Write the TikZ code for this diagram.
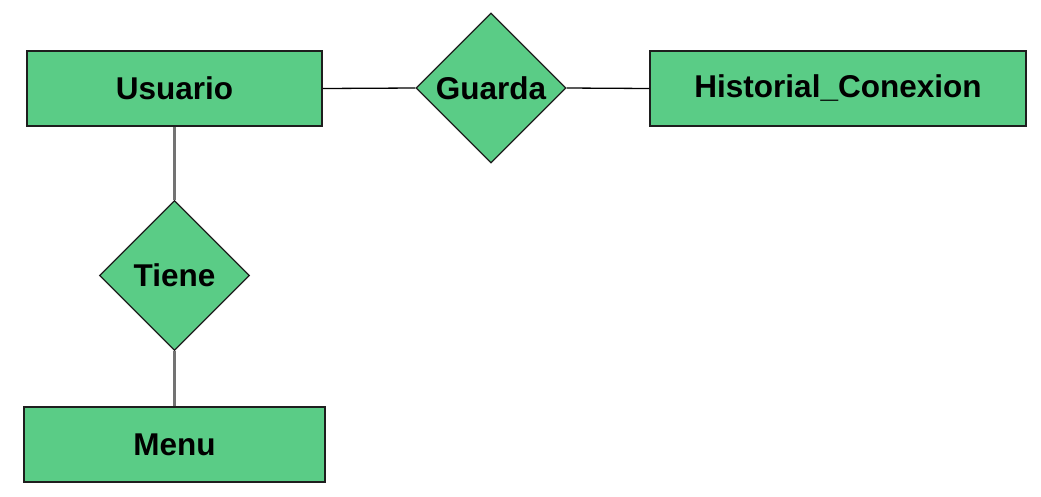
\documentclass[tikz,border=0pt]{standalone}
\usepackage{fontspec}
\setmainfont{Liberation Sans}
\usetikzlibrary{shapes.geometric}
\definecolor{erfill}{RGB}{90,204,134}
\definecolor{erline}{RGB}{30,30,30}
\begin{document}
\begin{tikzpicture}[x=1pt,y=-1pt,
  entity/.style={draw=erline,line width=1.5pt,fill=erfill,minimum width=#1,minimum height=75pt,inner sep=0pt,font=\fontsize{31.5}{31.5}\selectfont\bfseries},
  relation/.style={diamond,draw=erline,line width=1.2pt,fill=erfill,minimum width=150pt,minimum height=150pt,inner sep=0pt,aspect=1,font=\fontsize{31.5}{31.5}\selectfont\bfseries},
  link/.style={draw=black,line width=1.3pt},
  vlink/.style={draw=black!55,line width=2.5pt}]
\useasboundingbox[fill=white] (0,0) rectangle (1041,496);
\node[entity=295pt] (usuario) at (174.5,88.5) {Usuario};
\node[relation] (guarda) at (491,88) {Guarda};
\node[entity=376pt] (historial) at (838,88.5) {Historial\_Conexion};
\node[relation] (tiene) at (174.5,275.5) {Tiene};
\node[entity=301pt] (menu) at (174.5,444.5) {Menu};
\draw[link] (usuario.east) -- (guarda.west);
\draw[link] (guarda.east) -- (historial.west);
\draw[vlink] (usuario.south) -- (tiene.north);
\draw[vlink] (tiene.south) -- (menu.north);
\end{tikzpicture}
\end{document}
